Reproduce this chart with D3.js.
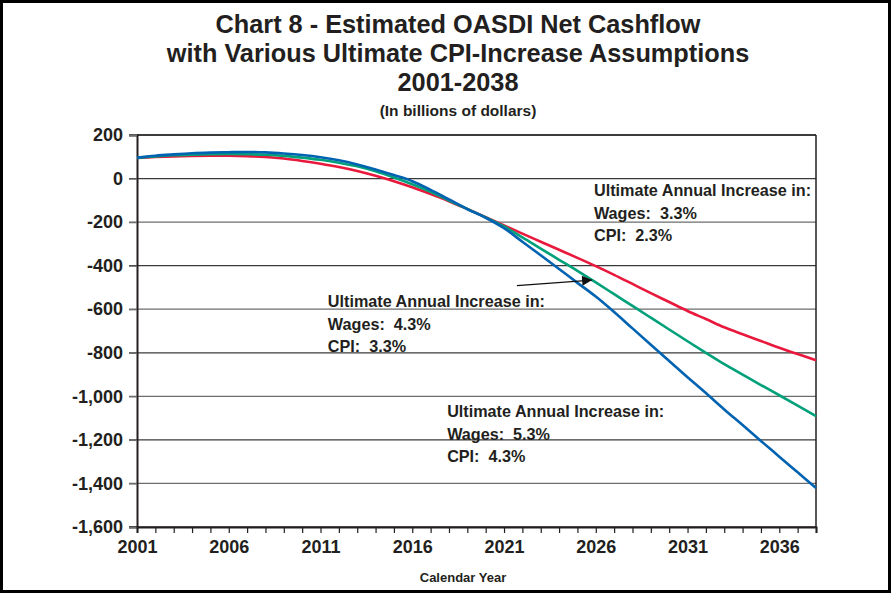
<!DOCTYPE html>
<html>
<head>
<meta charset="utf-8">
<script src="https://cdn.jsdelivr.net/npm/d3@7"></script>
<style>
  body { margin: 0; background: #fff; }
  text { font-family: Arial, "Liberation Sans", Helvetica, sans-serif; font-weight: bold; fill: #231f20; }
</style>
</head>
<body>
<div id="chart"></div>
<script>
const years = d3.range(2001, 2039);
// CPI 2.3% (wages 3.3%)
const cpi23 = [95, 99, 102, 104, 105, 105, 103, 99, 92, 81, 68, 53, 35, 13, -12, -40, -71, -104, -140, -177,
  -215, -253, -290, -327, -364, -402, -442, -484, -526, -567, -608, -645, -683, -715, -746, -777, -806, -834];
// CPI 3.3% (wages 4.3%)
const cpi33 = [95, 102, 107, 110, 112, 113, 112, 109, 104, 96, 86, 73, 56, 33, 5, -26, -61, -101, -140, -178,
  -220, -270, -322, -373, -424, -477, -531, -585, -639, -693, -747, -800, -852, -900, -948, -995, -1043, -1091];
// CPI 4.3% (wages 5.3%)
const cpi43 = [96, 105, 111, 116, 119, 121, 122, 120, 115, 108, 98, 84, 65, 42, 16, -12, -52, -96, -140, -180,
  -228, -290, -352, -415, -479, -542, -613, -688, -763, -838, -912, -985, -1060, -1132, -1205, -1277, -1349, -1421];
const yTicks = [200, 0, -200, -400, -600, -800, -1000, -1200, -1400, -1600];
const xLabelYears = [2001, 2006, 2011, 2016, 2021, 2026, 2031, 2036];
const titleLines = ["Chart 8 - Estimated OASDI Net Cashflow", "with Various Ultimate CPI-Increase Assumptions", "2001-2038"];
const notes = [
  { lines: ["Ultimate Annual Increase in:", "Wages:\u00a0 3.3%", "CPI:\u00a0 2.3%"], year: 2025.9, value: -82 },
  { lines: ["Ultimate Annual Increase in:", "Wages:\u00a0 4.3%", "CPI:\u00a0 3.3%"], year: 2011.4, value: -590 },
  { lines: ["Ultimate Annual Increase in:", "Wages:\u00a0 5.3%", "CPI:\u00a0 4.3%"], year: 2017.9, value: -1095 }
];
const arrowFrom = { year: 2021.7, value: -492 };
const arrowTo = { year: 2025.8, value: -466 };

const W = 893, H = 594;
const margin = { left: 137, right: 77, top: 135, bottom: 67 };

const svg = d3.select("#chart").append("svg").attr("width", W).attr("height", H);

svg.append("rect").attr("x", 1.5).attr("y", 1.5).attr("width", 888).attr("height", 590)
  .attr("fill", "#fff").attr("stroke", "#000").attr("stroke-width", 3);

const x = d3.scaleLinear().domain([2001, 2038]).range([margin.left, W - margin.right]);
const y = d3.scaleLinear().domain([-1600, 200]).range([H - margin.bottom, margin.top]);

// title
svg.append("g").selectAll("text").data(titleLines).enter().append("text")
  .attr("x", 458).attr("y", (d, i) => 33 + i * 29)
  .attr("text-anchor", "middle").style("font-size", "25.3px").text(d => d);
svg.append("text").attr("x", 458).attr("y", 116).attr("text-anchor", "middle")
  .style("font-size", "15.5px").text("(In billions of dollars)");

// gridlines
svg.append("g").selectAll("line").data(yTicks).enter().append("line")
  .attr("x1", x(2001) - 8).attr("x2", x(2038))
  .attr("y1", d => y(d)).attr("y2", d => y(d))
  .attr("stroke", (d, i) => i % 2 ? "#3a3a3a" : "#6d6d6d").attr("stroke-width", 1.3);

// plot frame
svg.append("line").attr("x1", x(2001)).attr("x2", x(2038)).attr("y1", y(200)).attr("y2", y(200))
  .attr("stroke", "#231f20").attr("stroke-width", 1.5);
svg.append("line").attr("x1", x(2038)).attr("x2", x(2038)).attr("y1", y(200)).attr("y2", y(-1600))
  .attr("stroke", "#231f20").attr("stroke-width", 1.5);

// y axis
const yAxis = svg.append("g").attr("transform", `translate(${x(2001)},0)`)
  .call(d3.axisLeft(y).tickValues(yTicks).tickSize(8).tickFormat(d3.format(",")));
yAxis.select(".domain").attr("stroke", "#231f20").attr("stroke-width", 2);
yAxis.selectAll(".tick line").attr("stroke", "#6d6d6d").attr("stroke-width", 1.3);
yAxis.selectAll(".tick text").attr("x", -14).style("font-size", "18px")
  .style("font-family", "Arial, 'Liberation Sans', sans-serif").attr("fill", "#231f20")
  .text(d => d3.format(",")(d).replace("−", "-"));

// x axis
const xAxis = svg.append("g").attr("transform", `translate(0,${y(-1600)})`)
  .call(d3.axisBottom(x).tickValues(years).tickSize(6).tickFormat(d => xLabelYears.includes(d) ? d : ""));
xAxis.select(".domain").attr("stroke", "#231f20").attr("stroke-width", 2);
xAxis.selectAll(".tick line").attr("stroke", "#231f20").attr("stroke-width", 1.2);
xAxis.selectAll(".tick text").attr("y", 13).style("font-size", "18px")
  .style("font-family", "Arial, 'Liberation Sans', sans-serif").attr("fill", "#231f20");

svg.append("text").attr("x", 463).attr("y", 582).attr("text-anchor", "middle")
  .style("font-size", "13px").text("Calendar Year");

// lines
const line = d3.line().x((d, i) => x(years[i])).y(d => y(d)).curve(d3.curveCatmullRom);
const series = [
  { values: cpi23, color: "#e8193c" },
  { values: cpi33, color: "#00a07a" },
  { values: cpi43, color: "#0063b1" }
];
svg.append("g").selectAll("path").data(series).enter().append("path")
  .attr("d", d => line(d.values)).attr("fill", "none")
  .attr("stroke", d => d.color).attr("stroke-width", 2.6);

// annotations
notes.forEach(n => {
  svg.append("g").selectAll("text").data(n.lines).enter().append("text")
    .attr("x", x(n.year)).attr("y", (d, i) => y(n.value) + i * 22.5)
    .style("font-size", "16.2px").text(d => d);
});

// arrow
svg.append("defs").append("marker").attr("id", "head")
  .attr("viewBox", "0 0 10 10").attr("refX", 10).attr("refY", 5)
  .attr("markerWidth", 14).attr("markerHeight", 10).attr("markerUnits", "userSpaceOnUse")
  .attr("orient", "auto")
  .append("path").attr("d", "M0,0L10,5L0,10Z").attr("fill", "#111");
svg.append("line")
  .attr("x1", x(arrowFrom.year)).attr("y1", y(arrowFrom.value))
  .attr("x2", x(arrowTo.year)).attr("y2", y(arrowTo.value))
  .attr("stroke", "#111").attr("stroke-width", 1.2).attr("marker-end", "url(#head)");
</script>
</body>
</html>
